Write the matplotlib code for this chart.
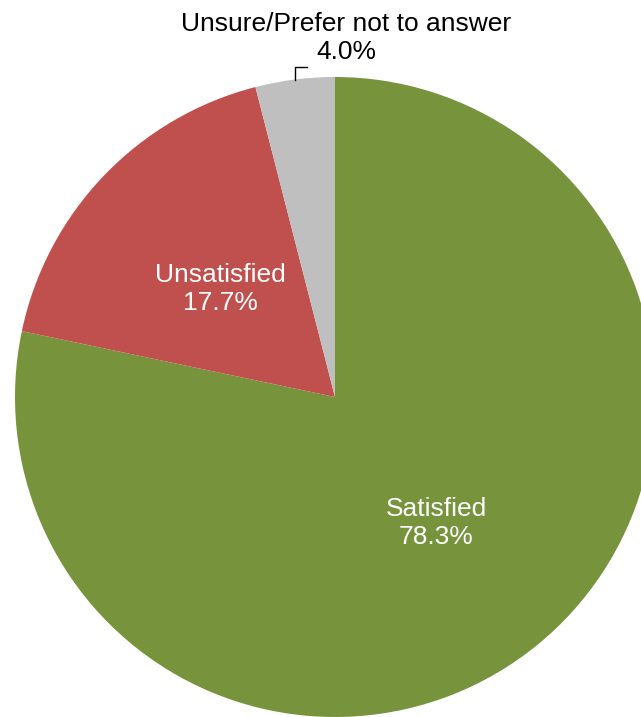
import numpy as np
import matplotlib.pyplot as plt

# Satisfaction survey results
categories = ['Satisfied', 'Unsatisfied', 'Unsure/Prefer not to answer']
shares = [78.3, 17.7, 4.0]
colors = ['#77933C', '#C0504D', '#BFBFBF']

plt.rcParams['font.family'] = ['Liberation Sans', 'DejaVu Sans']

W, H = 641, 717
fig = plt.figure(figsize=(W / 100, H / 100), dpi=100)
ax = fig.add_axes([0, 0, 1, 1])

# work in pixel units (y measured upward)
cx, cy, R = 335, H - 397, 320

inside = [f'{c}\n{v:.1f}%' if v > 10 else '' for c, v in zip(categories, shares)]
wedges, texts = ax.pie(shares, colors=colors, labels=inside, labeldistance=0.5,
                       startangle=90, counterclock=False, center=(cx, cy),
                       radius=R, textprops=dict(color='white', fontsize=19,
                                                ha='center', va='center'))
for t in texts:
    t.set_linespacing(1.2)
# nudge the inside labels to where the original puts them
texts[0].set_position((436, H - 523))
texts[1].set_position((220, H - 289))

# small slice: label outside with a leader line
w = wedges[2]
ang = np.deg2rad((w.theta1 + w.theta2) / 2)
x0 = cx + R * np.cos(ang)
y0 = cy + R * np.sin(ang)
ax.plot([x0, x0, x0 + 12], [y0, H - 67, H - 67], color='black', lw=1)
ax.text(346, H - 38, f'{categories[2]}\n{shares[2]:.1f}%', ha='center',
        va='center', fontsize=19, color='black', linespacing=1.2)

ax.set_xlim(0, W)
ax.set_ylim(0, H)
ax.set_aspect('auto')
ax.axis('off')

fig.savefig('out.png', dpi=100)
